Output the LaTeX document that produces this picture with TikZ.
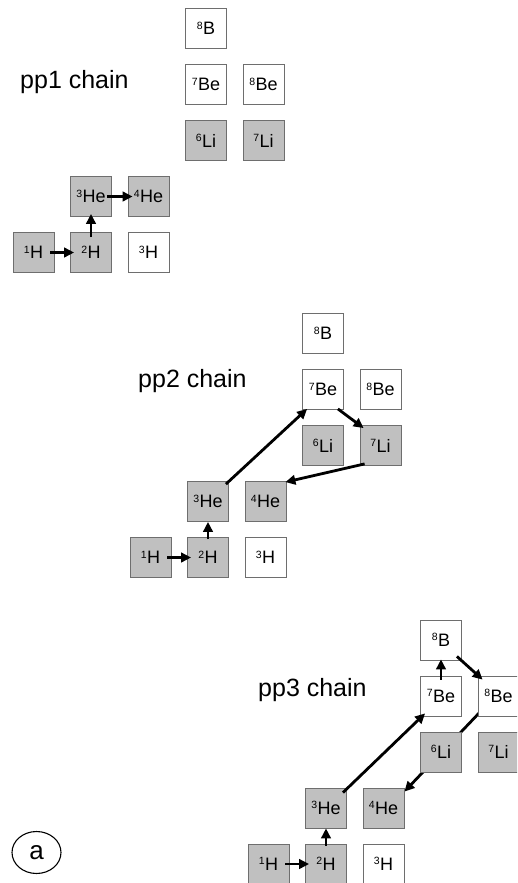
\documentclass[tikz,border=0pt]{standalone}
\usepackage{fontspec}
\setmainfont{Liberation Sans}
\usetikzlibrary{arrows.meta,calc,shapes.geometric}
\pgfdeclarelayer{bg}
\pgfsetlayers{bg,main}
\definecolor{boxfill}{RGB}{192,192,192}
\definecolor{boxline}{RGB}{110,110,110}
\newcommand{\iso}[2]{\raisebox{5.6pt}{\fontsize{10.5}{11}\selectfont #1}\kern0.2pt#2}
\tikzset{
  nuc/.style={draw=boxline, line width=0.8pt, minimum width=41pt, minimum height=40pt, inner sep=0pt, font=\fontsize{18}{20}\selectfont},
  stable/.style={nuc, fill=boxfill},
  unstable/.style={nuc, fill=white},
  flow/.style={line width=2.8pt, -{Triangle[length=10pt,width=9.5pt]}},
  chainlabel/.style={anchor=base west, inner sep=0pt, font=\fontsize{25}{30}\selectfont},
  tagmark/.style={draw, ellipse, line width=1.1pt, minimum width=49pt, minimum height=42pt, inner sep=0pt, font=\fontsize{26}{30}\selectfont},
}
% #1 prefix, #2 x of N=0 column, #3 y of Z=1 row (y grows downward)
\newcommand{\nucgrid}[3]{%
  \node[stable]   (#11H)  at ($(#2,#3)+(0,0)$)        {\iso{1}{H}};
  \node[stable]   (#12H)  at ($(#2,#3)+(57.5,0)$)     {\iso{2}{H}};
  \node[unstable] (#13H)  at ($(#2,#3)+(115,0)$)      {\iso{3}{H}};
  \node[stable]   (#13He) at ($(#2,#3)+(57.5,-56)$)   {\iso{3}{He}};
  \node[stable]   (#14He) at ($(#2,#3)+(115,-56)$)    {\iso{4}{He}};
  \node[stable]   (#16Li) at ($(#2,#3)+(172.5,-112)$) {\iso{6}{Li}};
  \node[stable]   (#17Li) at ($(#2,#3)+(230,-112)$)   {\iso{7}{Li}};
  \node[unstable] (#17Be) at ($(#2,#3)+(172.5,-168)$) {\iso{7}{Be}};
  \node[unstable] (#18Be) at ($(#2,#3)+(230,-168)$)   {\iso{8}{Be}};
  \node[unstable] (#18B)  at ($(#2,#3)+(172.5,-224)$) {\iso{8}{B}};
}
\begin{document}
\begin{tikzpicture}[x=1pt,y=-1pt]
  \useasboundingbox (0,0) rectangle (517,883);
  \clip (0,0) rectangle (517,883);

  % panel 1
  \nucgrid{A}{33.5}{252.5}
  \node[chainlabel] (L1) at (20,88.3) {pp1 chain};
  \draw[flow] ($(A1H.east)+(-4,0)$) -- ($(A2H.west)+(4,0)$);
  \draw[flow] ($(A2H.north)+(0,5)$) -- ($(A3He.south)+(0,-3)$);
  \draw[flow] ($(A3He.east)+(-5,0)$) -- ($(A4He.west)+(5,0)$);

  % panel 2
  \nucgrid{B}{150.5}{557.5}
  \node[chainlabel] (L2) at (138,387) {pp2 chain};
  \draw[flow] ($(B1H.east)+(-4,0)$) -- ($(B2H.west)+(4,0)$);
  \draw[flow] ($(B2H.north)+(0,2)$) -- ($(B3He.south)+(0,0)$);
  \draw[flow] ($(B3He.north east)+(-3,3)$) -- ($(B7Be.south west)+(5,-1)$);
  \draw[flow] ($(B7Be.south east)+(-6,-1)$) -- ($(B7Li.north west)+(4,3)$);
  \draw[flow] ($(B7Li.south west)+(5,-2)$) -- ($(B4He.north east)+(-1,1)$);

  % panel 3
  \nucgrid{C}{268.5}{864}
  \node[chainlabel] (L3) at (258,696) {pp3 chain};
  \draw[flow] ($(C1H.east)+(-4,0)$) -- ($(C2H.west)+(4,0)$);
  \draw[flow] ($(C2H.north)+(0,2)$) -- ($(C3He.south)+(0,0)$);
  \draw[flow] ($(C3He.north east)+(-4,5)$) -- ($(C7Be.south west)+(5,-3)$);
  \draw[flow] ($(C7Be.north)+(0,4)$) -- ($(C8B.south)+(0,-1)$);
  \draw[flow] ($(C8B.south east)+(-5,-4)$) -- ($(C8Be.north west)+(5,4)$);
  \begin{pgfonlayer}{bg}
    \draw[flow] ($(C8Be.south west)+(3,-5)$) -- ($(C4He.north east)+(0,4)$);
  \end{pgfonlayer}

  \node[tagmark] (tag) at (36.5,852.5) {a};
\end{tikzpicture}
\end{document}
